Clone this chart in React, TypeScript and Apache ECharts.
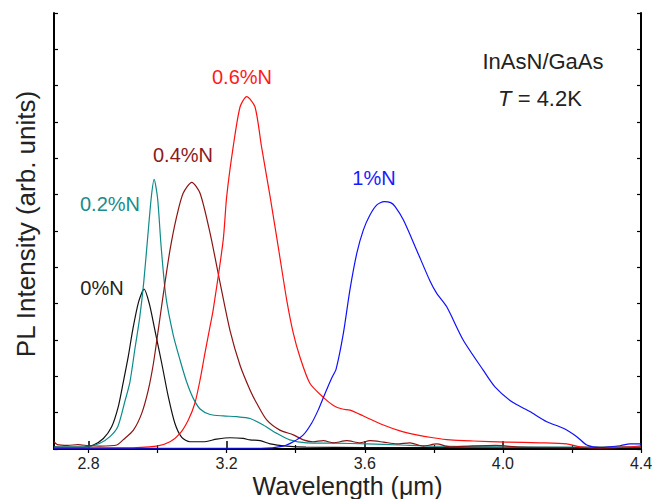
import React, { useEffect, useRef } from "react";
import * as echarts from "echarts";

// Wavelength (µm) / PL intensity (arb. units) pairs
const n0: number[][] = [
  [2.7, 0.06], [2.75, 0.05], [2.785, 0.05], [2.814, 0.11], [2.843, 0.29], [2.867, 0.61],
  [2.886, 1.16], [2.9, 1.81], [2.915, 2.54], [2.928, 3.28], [2.945, 4.05], [2.961, 4.4],
  [2.976, 4.0], [2.992, 3.28], [3.012, 2.36], [3.031, 1.44], [3.05, 0.71], [3.07, 0.32],
  [3.094, 0.2], [3.132, 0.2], [3.171, 0.27], [3.21, 0.31], [3.248, 0.29], [3.268, 0.25],
  [3.297, 0.23], [3.326, 0.14], [3.374, 0.08], [3.43, 0.05], [3.6, 0.04], [3.8, 0.04],
  [4.0, 0.03], [4.2, 0.03], [4.4, 0.04],
];
const n02: number[][] = [
  [2.7, 0.05], [2.785, 0.05], [2.833, 0.16], [2.862, 0.34], [2.885, 0.62], [2.905, 1.3],
  [2.92, 1.85], [2.935, 2.8], [2.948, 3.6], [2.96, 4.6], [2.972, 5.9], [2.982, 6.95],
  [2.99, 7.42], [3.0, 6.9], [3.01, 5.6], [3.024, 4.2], [3.045, 3.15], [3.065, 2.45],
  [3.084, 1.85], [3.103, 1.4], [3.123, 1.1], [3.152, 0.95], [3.19, 0.91], [3.229, 0.89],
  [3.268, 0.84], [3.306, 0.66], [3.345, 0.43], [3.383, 0.25], [3.432, 0.17], [3.509, 0.16],
  [3.606, 0.14], [3.702, 0.11], [3.798, 0.08], [4.0, 0.06], [4.2, 0.05], [4.4, 0.05],
];
const n04: number[][] = [
  [2.7, 0.2], [2.71, 0.12], [2.74, 0.1], [2.77, 0.12], [2.8, 0.09], [2.833, 0.08],
  [2.882, 0.11], [2.9, 0.25], [2.93, 0.52], [2.954, 0.98], [2.973, 1.62], [2.988, 2.36],
  [3.002, 3.28], [3.017, 4.29], [3.036, 5.48], [3.055, 6.39], [3.074, 7.04], [3.099, 7.34],
  [3.123, 7.04], [3.152, 5.94], [3.181, 4.57], [3.21, 3.25], [3.239, 2.3], [3.268, 1.62],
  [3.287, 1.26], [3.316, 0.8], [3.354, 0.52], [3.393, 0.39], [3.422, 0.25], [3.45, 0.2],
  [3.48, 0.23], [3.509, 0.17], [3.548, 0.23], [3.586, 0.17], [3.615, 0.23], [3.654, 0.19],
  [3.692, 0.14], [3.731, 0.17], [3.77, 0.08], [3.808, 0.14], [3.847, 0.06], [3.9, 0.08],
  [3.98, 0.1], [4.05, 0.05], [4.2, 0.04], [4.4, 0.05],
];
const n06: number[][] = [
  [2.7, 0.03], [2.9, 0.03], [2.997, 0.08], [3.036, 0.2], [3.065, 0.43], [3.089, 0.8],
  [3.108, 1.26], [3.123, 1.9], [3.137, 2.63], [3.15, 3.28], [3.161, 3.83], [3.19, 5.75],
  [3.2, 6.94], [3.219, 8.32], [3.239, 9.42], [3.258, 9.7], [3.282, 9.42], [3.301, 8.32],
  [3.326, 6.94], [3.354, 5.29], [3.374, 4.1], [3.393, 3.19], [3.412, 2.54], [3.441, 1.81],
  [3.48, 1.42], [3.509, 1.2], [3.535, 1.1], [3.557, 1.07], [3.596, 0.91], [3.654, 0.66],
  [3.702, 0.5], [3.75, 0.39], [3.798, 0.31], [3.847, 0.25], [3.914, 0.22], [4.011, 0.19],
  [4.107, 0.17], [4.185, 0.14], [4.223, 0.06], [4.28, 0.03], [4.36, 0.05], [4.4, 0.09],
];
const n10: number[][] = [
  [2.7, 0.02], [3.0, 0.02], [3.3, 0.02], [3.364, 0.08], [3.393, 0.2], [3.422, 0.39],
  [3.446, 0.71], [3.465, 1.07], [3.485, 1.53], [3.504, 1.95], [3.517, 2.2], [3.538, 3.18],
  [3.557, 4.38], [3.577, 5.39], [3.596, 6.03], [3.615, 6.44], [3.635, 6.72], [3.656, 6.81],
  [3.675, 6.78], [3.688, 6.67], [3.712, 6.3], [3.75, 5.48], [3.79, 4.6], [3.808, 4.29],
  [3.837, 3.92], [3.885, 3.0], [3.943, 2.17], [3.977, 1.71], [4.026, 1.3], [4.078, 1.03],
  [4.127, 0.75], [4.175, 0.57], [4.214, 0.34], [4.243, 0.11], [4.281, 0.04], [4.339, 0.09],
  [4.368, 0.14], [4.4, 0.14],
];

const xLabelValues = [2.8, 3.2, 3.6, 4.0, 4.4];
const xMinorTickValues = [3.0, 3.4, 3.8, 4.2];
const xAllTickValues = [2.8, 3.0, 3.2, 3.4, 3.6, 3.8, 4.0, 4.2, 4.4];

const FONT = "Liberation Sans, Arial, sans-serif";

export default function App() {
  const ref = useRef<HTMLDivElement>(null);
  useEffect(() => {
    if (!ref.current) return;
    const chart = echarts.init(ref.current, undefined, { renderer: "svg" });
    const lineAxis = { lineStyle: { color: "#000", width: 2 } };
    const hiddenLabel = { show: false };
    const mkSeries = (data: number[][], color: string) => ({
      type: "line",
      data,
      xAxisIndex: 0,
      yAxisIndex: 0,
      showSymbol: false,
      smooth: 0.25,
      lineStyle: { color, width: 1.2 },
      itemStyle: { color },
      silent: true,
    });
    const label = (text: string, x: number, y: number, fill: string, size = 20) => ({
      type: "text",
      x,
      y,
      style: {
        text,
        fill,
        fontSize: size,
        fontFamily: FONT,
        align: "center",
        verticalAlign: "middle",
        textAlign: "center",
        textVerticalAlign: "middle",
      },
    });
    chart.setOption({
      animation: false,
      backgroundColor: "#fff",
      textStyle: { fontFamily: FONT },
      grid: { left: 54, right: 11, top: 13, bottom: 50, containLabel: false, outerBoundsMode: "none" },
      xAxis: [
        {
          type: "value",
          position: "bottom",
          min: 2.7,
          max: 4.4,
          axisLine: lineAxis,
          axisTick: { inside: true, length: 8, customValues: xLabelValues, lineStyle: { color: "#000", width: 1.5 } },
          axisLabel: {
            customValues: xLabelValues,
            formatter: (v: number) => v.toFixed(1),
            fontSize: 16,
            color: "#222",
            margin: 6,
            fontFamily: FONT,
          },
          splitLine: { show: false },
          name: "Wavelength (μm)",
          nameLocation: "middle",
          nameGap: 24,
          nameMoveOverlap: false,
          nameTextStyle: { fontSize: 25, color: "#222", fontFamily: FONT },
        },
        {
          type: "value",
          position: "top",
          min: 2.7,
          max: 4.4,
          axisLine: lineAxis,
          axisTick: { inside: true, length: 4, customValues: xAllTickValues, lineStyle: { color: "#000", width: 1.2 } },
          axisLabel: hiddenLabel,
          splitLine: { show: false },
        },
        {
          type: "value",
          position: "bottom",
          min: 2.7,
          max: 4.4,
          axisLine: { show: false },
          axisTick: { inside: true, length: 4, customValues: xMinorTickValues, lineStyle: { color: "#000", width: 1.2 } },
          axisLabel: hiddenLabel,
          splitLine: { show: false },
        },
      ],
      yAxis: [
        {
          type: "value",
          position: "left",
          min: 0,
          max: 12,
          interval: 1,
          axisLine: { show: true, ...lineAxis },
          axisTick: { show: true, inside: true, length: 4, lineStyle: { color: "#000", width: 1.2 } },
          axisLabel: hiddenLabel,
          splitLine: { show: false },
          name: "PL Intensity (arb. units)",
          nameLocation: "middle",
          nameGap: 15,
          nameMoveOverlap: false,
          nameTextStyle: { fontSize: 26, color: "#222", fontFamily: FONT, padding: [0, 0, 0, 14] },
        },
        {
          type: "value",
          position: "right",
          min: 0,
          max: 12,
          interval: 1,
          axisLine: { show: true, ...lineAxis },
          axisTick: { show: true, inside: true, length: 4, lineStyle: { color: "#000", width: 1.2 } },
          axisLabel: hiddenLabel,
          splitLine: { show: false },
        },
      ],
      series: [
        mkSeries(n0, "#111111"),
        mkSeries(n02, "#0e8a8a"),
        mkSeries(n04, "#8b1414"),
        mkSeries(n06, "#ff1010"),
        mkSeries(n10, "#1010ff"),
      ],
      graphic: [
        label("0%N", 102, 288, "#222"),
        label("0.2%N", 110, 204, "#1a8c8c"),
        label("0.4%N", 183, 155, "#8b1a1a"),
        label("0.6%N", 242, 77, "#ff1a1a"),
        label("1%N", 374, 178, "#1a1aff"),
        label("InAsN/GaAs", 543, 61, "#222", 22),
        {
          type: "text",
          x: 540,
          y: 98,
          style: {
            text: "{it|T} = 4.2K",
            fill: "#222",
            fontSize: 22,
            fontFamily: FONT,
            align: "center",
            verticalAlign: "middle",
            textAlign: "center",
            textVerticalAlign: "middle",
            rich: { it: { fontStyle: "italic", fontSize: 22, fontFamily: FONT, fill: "#222" } },
          },
        },
      ],
    });
    return () => chart.dispose();
  }, []);
  return (
    <div
      ref={ref}
      style={{ position: "fixed", left: 0, top: 0, width: 652, height: 499, background: "#fff" }}
    />
  );
}
